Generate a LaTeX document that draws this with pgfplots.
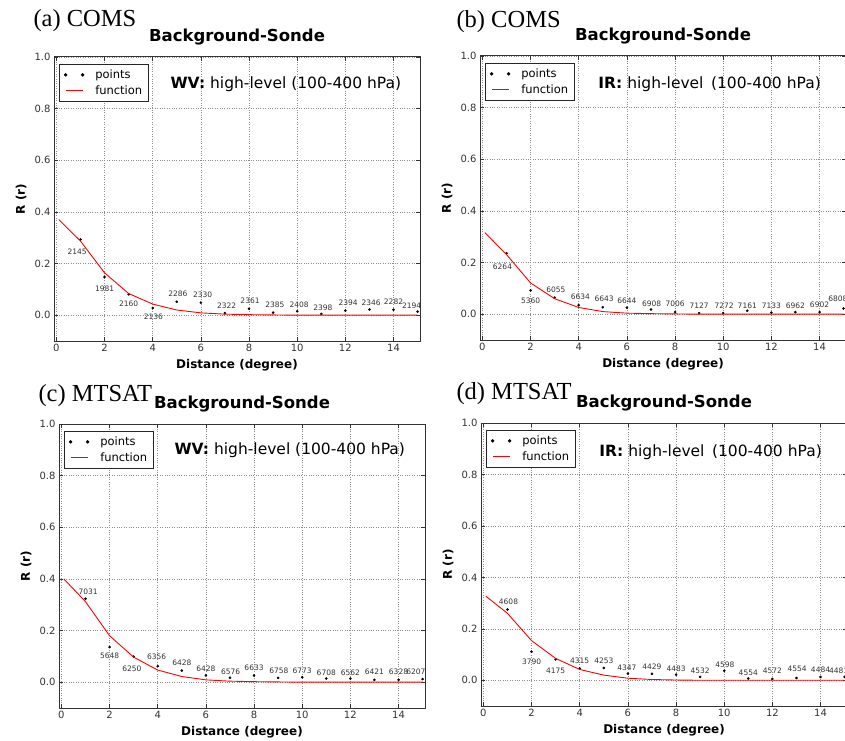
\documentclass[border=0pt]{standalone}
\usepackage{fontspec}
\setmainfont{DejaVu Sans}
\newfontfamily\seriffont{Liberation Serif}
\usepackage{pgfplots}
\usepackage{pgfplotstable}
\pgfplotsset{compat=1.18}

% points: distance, R, count, label offset (pt)
\pgfplotstableread{
x  y     n    dx   dy
1  0.293 2145 -3.3 -12.3
2  0.148 1981 0    -11.7
3  0.081 2160 0    -9.3
4  0.028 2136 0.7  -9
5  0.052 2286 1    8.3
6  0.049 2330 1.7  7.3
7  0.008 2322 1.7  7.3
8  0.025 2361 1    8
9  0.010 2385 1.7  8.3
10 0.015 2408 2    7
11 0.005 2398 1.7  6
12 0.018 2394 2.7  7.3
13 0.022 2346 1.7  7
14 0.021 2282 0    8.3
15 0.014 2194 -6   6
}\ptsA
\pgfplotstableread{
x  y     n    dx   dy
1  0.236 6264 -4   -13.7
2  0.092 5360 0    -10
3  0.064 6055 1.3  8
4  0.035 6634 1.7  8
5  0.027 6643 1.3  8.3
6  0.025 6644 0    7.3
7  0.018 6908 0.7  5.3
8  0.008 7006 0    8
9  0.004 7127 0    7.3
10 0.004 7272 1    7.7
11 0.013 7161 0    5.3
12 0.006 7133 0    7
13 0.008 6962 0    6.7
14 0.008 6902 0    7.7
15 0.022 6808 -5.7 9.3
}\ptsB
\pgfplotstableread{
x  y     n    dx   dy
1  0.323 7031 2.7  7
2  0.136 5648 0    -8.7
3  0.099 6250 -1.7 -12.3
4  0.062 6356 -1   9
5  0.045 6428 0    8.3
6  0.026 6428 0    6.3
7  0.017 6576 0.7  6.3
8  0.026 6633 0    7.3
9  0.017 6758 0.7  7.3
10 0.019 6773 0    6.3
11 0.014 6708 0    6.3
12 0.014 6562 0    6.3
13 0.009 6421 0    7.7
14 0.009 6328 0    7.7
15 0.012 6207 -6.7 7
}\ptsC
\pgfplotstableread{
x  y     n    dx   dy
1  0.275 4608 1    7.7
2  0.111 3790 0    -10.3
3  0.081 4175 0    -11.3
4  0.046 4315 0    7.7
5  0.048 4253 0    7
6  0.026 4347 -1   6
7  0.025 4429 0    7
8  0.022 4483 0    6
9  0.013 4532 0    5.7
10 0.037 4598 0.7  6.3
11 0.007 4554 0    6
12 0.005 4572 0    8
13 0.009 4554 0.7  8.7
14 0.013 4484 0    7.3
15 0.013 4481 -6   6
}\ptsD

% fitted correlation functions
\pgfplotstableread{
x   a     b     c     d
0.1 0.370 0.316 0.400 0.327
1   0.287 0.231 0.312 0.260
2   0.164 0.121 0.180 0.154
3   0.084 0.060 0.097 0.085
4   0.043 0.026 0.047 0.042
5   0.020 0.010 0.022 0.020
6   0.009 0.004 0.009 0.008
7   0.004 0.002 0.004 0.003
8   0.002 0.001 0.002 0.001
9   0.001 0     0.001 0
10  0     0     0     0
11  0     0     0     0
12  0     0     0     0
13  0     0     0     0
14  0     0     0     0
15  0     0     0     0
}\fitted

\pgfplotsset{
  panel/.style={
    scale only axis, width=366pt, height=284pt, anchor=south west,
    xmin=-0.1, xmax=15.1, ymin=-0.1, ymax=1.0,
    xtick={0,2,4,6,8,10,12,14}, ytick={0,0.2,0.4,0.6,0.8,1.0},
    yticklabel style={/pgf/number format/.cd, fixed, fixed zerofill, precision=1},
    /pgf/number format/assume math mode=true,
    tick label style={font=\fontsize{10}{12}\selectfont, text=black!80},
    major tick length=4pt, tick style={black!80, line width=0.6pt},
    axis line style={black!80, line width=1pt},
    grid=major, grid style={black!45, line width=0.5pt, dash pattern=on 0.8pt off 1.6pt},
    clip mode=individual,
    title={Background-Sonde},
    title style={at={(axis description cs:0.5,1)}, anchor=base, yshift=9.5pt,
      font=\bfseries\fontsize{16.5}{19}\selectfont},
    xlabel={Distance (degree)}, ylabel={R (r)},
    every axis x label/.style={at={(axis description cs:0.5,-0.097)}, anchor=base,
      font=\bfseries\fontsize{12}{14}\selectfont},
    every axis y label/.style={at={(axis description cs:-0.09,0.5)}, anchor=center, rotate=90,
      font=\bfseries\fontsize{12}{14}\selectfont},
    legend style={at={(axis description cs:0,1)}, anchor=north west, xshift=5pt, yshift=-7pt,
      draw=black!85, line width=0.9pt, inner xsep=4.5pt, inner ysep=3.3pt,
      column sep=9pt, row sep=1.6pt, cells={anchor=west},
      font=\fontsize{11.5}{13}\selectfont},
  },
  ptlabels/.style={draw=none, mark=none, forget plot,
    nodes near coords, point meta=explicit symbolic,
    visualization depends on={\thisrow{dx}\as\labdx},
    visualization depends on={\thisrow{dy}\as\labdy},
    every node near coord/.append style={anchor=center, inner sep=0pt,
      xshift=\labdx pt, yshift=\labdy pt, text=black!80,
      font=\fontsize{7.5}{9}\selectfont}},
  ptmarks/.style={only marks, mark=*, mark size=1.1pt, black,
    legend image code/.code={
      \fill[black] (0pt,0pt) circle (1.2pt);
      \fill[black] (17pt,0pt) circle (1.2pt);}},
  fitcurve/.style={red, line width=0.9pt, mark=none,
    legend image code/.code={
      \path[fill=red, draw=none] (0pt,-0.6pt) rectangle (17pt,0.6pt);}},
}

\begin{document}
\begin{tikzpicture}
\useasboundingbox (0,0) rectangle (845pt,740pt);
\clip (0,0) rectangle (845pt,740pt);

\node[anchor=base west, font=\seriffont\fontsize{24.5}{28}\selectfont] at (30pt,713pt) {(a) COMS};
\node[anchor=base west, font=\seriffont\fontsize{24.5}{28}\selectfont] at (453pt,712pt) {(b) COMS};
\node[anchor=base west, font=\seriffont\fontsize{24.5}{28}\selectfont] at (35pt,339pt) {(c) MTSAT};
\node[anchor=base west, font=\seriffont\fontsize{24.5}{28}\selectfont] at (453pt,341pt) {(d) MTSAT};

% (a)
\begin{axis}[panel, at={(54pt,399pt)}]
\addplot[ptlabels] table[x=x, y=y, meta=n] {\ptsA};
\addplot[ptmarks] table[x=x, y=y] {\ptsA};
\addlegendentry{points}
\addplot[fitcurve] table[x=x, y=a] {\fitted};
\addlegendentry{function}
\node[anchor=base west, font=\fontsize{15.5}{18}\selectfont] at (axis description cs:0.309,0.888)
  {\textbf{WV:} high-level (100-400 hPa)};
\end{axis}

% (b)
\begin{axis}[panel, at={(480pt,400pt)}]
\addplot[ptlabels] table[x=x, y=y, meta=n] {\ptsB};
\addplot[ptmarks] table[x=x, y=y] {\ptsB};
\addlegendentry{points}
\addplot[fitcurve] table[x=x, y=b] {\fitted};
\addlegendentry{function}
\node[anchor=base west, font=\fontsize{15.5}{18}\selectfont] at (axis description cs:0.314,0.884)
  {\textbf{IR:} high-level\, (100-400 hPa)};
\end{axis}

% (c)
\begin{axis}[panel, at={(59pt,32pt)}]
\addplot[ptlabels] table[x=x, y=y, meta=n] {\ptsC};
\addplot[ptmarks] table[x=x, y=y] {\ptsC};
\addlegendentry{points}
\addplot[fitcurve] table[x=x, y=c] {\fitted};
\addlegendentry{function}
\node[anchor=base west, font=\fontsize{15.5}{18}\selectfont] at (axis description cs:0.306,0.891)
  {\textbf{WV:} high-level (100-400 hPa)};
\end{axis}

% (d)
\begin{axis}[panel, at={(481pt,34pt)}, height=283pt]
\addplot[ptlabels] table[x=x, y=y, meta=n] {\ptsD};
\addplot[ptmarks] table[x=x, y=y] {\ptsD};
\addlegendentry{points}
\addplot[fitcurve] table[x=x, y=d] {\fitted};
\addlegendentry{function}
\node[anchor=base west, font=\fontsize{15.5}{18}\selectfont] at (axis description cs:0.314,0.883)
  {\textbf{IR:} high-level\, (100-400 hPa)};
\end{axis}
\end{tikzpicture}
\end{document}
